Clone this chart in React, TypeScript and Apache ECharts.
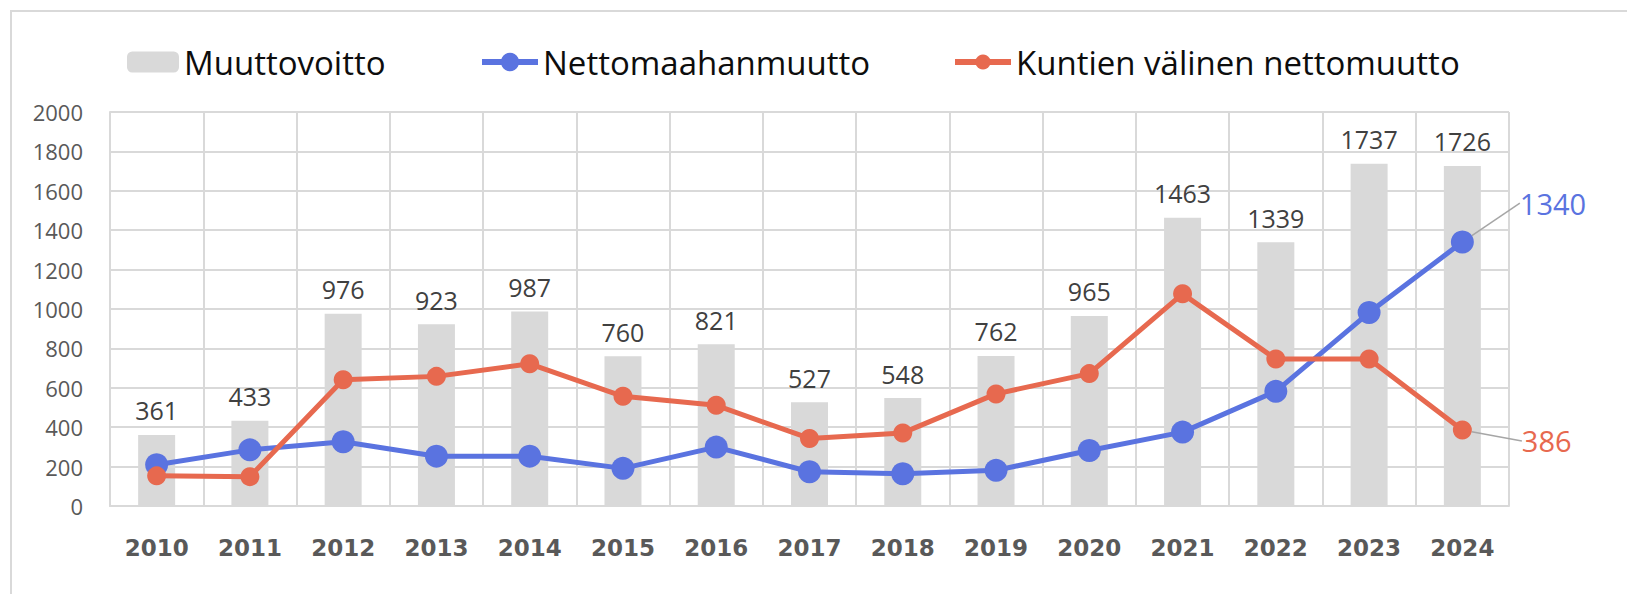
import React, { useEffect, useRef } from "react";
import * as echarts from "echarts";

const years = ["2010","2011","2012","2013","2014","2015","2016","2017","2018","2019","2020","2021","2022","2023","2024"];
const muuttovoitto = [361, 433, 976, 923, 987, 760, 821, 527, 548, 762, 965, 1463, 1339, 1737, 1726];
const nettomaahanmuutto = [209, 285, 326, 253, 253, 191, 299, 174, 164, 181, 282, 375, 582, 982, 1340];
const kuntienValinen = [153, 149, 641, 658, 722, 557, 511, 343, 371, 569, 672, 1077, 746, 746, 386];
const yTicks = { min: 0, max: 2000, interval: 200 };

const BAR = "#d9d9d9";
const BLUE = "#5a73e0";
const RED = "#e7694f";
const GRID = "#d9d9d9";

function lastLabelData(values: number[], color: string) {
  return values.map((v, i) =>
    i === values.length - 1
      ? {
          value: v,
          label: {
            show: true,
            position: "right",
            distance: 4,
            color,
            fontFamily: "Open Sans",
            fontSize: 29,
            formatter: "{c}",
          },
          labelLine: { show: true, lineStyle: { color: "#a6a6a6", width: 1.5 } },
        }
      : v
  );
}

export default function App() {
  const ref = useRef<HTMLDivElement>(null);
  useEffect(() => {
    document.body.style.margin = "0";
    if (!ref.current) return;
    const chart = echarts.init(ref.current, null, { renderer: "svg" });
    const legendText = { fontFamily: "Open Sans", fontSize: 33, color: "#0d0d0d", lineHeight: 36 };
    chart.setOption({
      animation: false,
      backgroundColor: "#ffffff",
      graphic: [
        {
          type: "rect",
          shape: { x: 11, y: 11, width: 1700, height: 700 },
          style: { fill: "none", stroke: "#d9d9d9", lineWidth: 2 },
          silent: true,
          z: -10,
        },
      ],
      legend: [
        {
          data: ["Muuttovoitto"],
          left: 127,
          top: 44,
          padding: 0,
          itemWidth: 52,
          itemHeight: 21,
          textStyle: legendText,
        },
        {
          data: ["Nettomaahanmuutto"],
          left: 479,
          top: 44,
          padding: 0,
          itemWidth: 56,
          itemHeight: 23,
          lineStyle: { width: 6 },
          textStyle: legendText,
        },
        {
          data: ["Kuntien välinen nettomuutto"],
          left: 952,
          top: 44,
          padding: 0,
          itemWidth: 56,
          itemHeight: 19,
          lineStyle: { width: 6 },
          textStyle: legendText,
        },
      ],
      grid: { left: 110, right: 118, top: 112, bottom: 88, containLabel: false },
      xAxis: {
        type: "category",
        data: years,
        boundaryGap: true,
        axisLine: { show: true, lineStyle: { color: GRID, width: 2 } },
        axisTick: { show: false },
        splitLine: { show: true, lineStyle: { color: GRID, width: 2 } },
        axisLabel: {
          margin: 30,
          fontFamily: "DejaVu Sans",
          fontWeight: "bold",
          fontSize: 23,
          color: "#595959",
          interval: 0,
        },
      },
      yAxis: {
        type: "value",
        min: yTicks.min,
        max: yTicks.max,
        interval: yTicks.interval,
        axisLine: { show: true, lineStyle: { color: GRID, width: 2 } },
        axisTick: { show: false },
        splitLine: { show: true, lineStyle: { color: GRID, width: 2 } },
        axisLabel: {
          margin: 27,
          fontFamily: "Open Sans",
          fontSize: 22,
          color: "#595959",
          formatter: (v: number) => String(v),
        },
      },
      series: [
        {
          name: "Muuttovoitto",
          type: "bar",
          data: muuttovoitto,
          barWidth: 37,
          itemStyle: { color: BAR },
          label: {
            show: true,
            position: "top",
            distance: 12,
            fontFamily: "Open Sans",
            fontSize: 25,
            color: "#404040",
          },
        },
        {
          name: "Nettomaahanmuutto",
          type: "line",
          data: lastLabelData(nettomaahanmuutto, BLUE),
          symbol: "circle",
          symbolSize: 23,
          itemStyle: { color: BLUE },
          lineStyle: { color: BLUE, width: 5 },
          labelLayout: { dx: 42, dy: -39 },
          z: 3,
        },
        {
          name: "Kuntien välinen nettomuutto",
          type: "line",
          data: lastLabelData(kuntienValinen, RED),
          symbol: "circle",
          symbolSize: 19,
          itemStyle: { color: RED },
          lineStyle: { color: RED, width: 5 },
          labelLayout: { dx: 46, dy: 11 },
          z: 4,
        },
      ],
    });
    return () => chart.dispose();
  }, []);
  return <div ref={ref} style={{ width: 1627, height: 594 }} />;
}
